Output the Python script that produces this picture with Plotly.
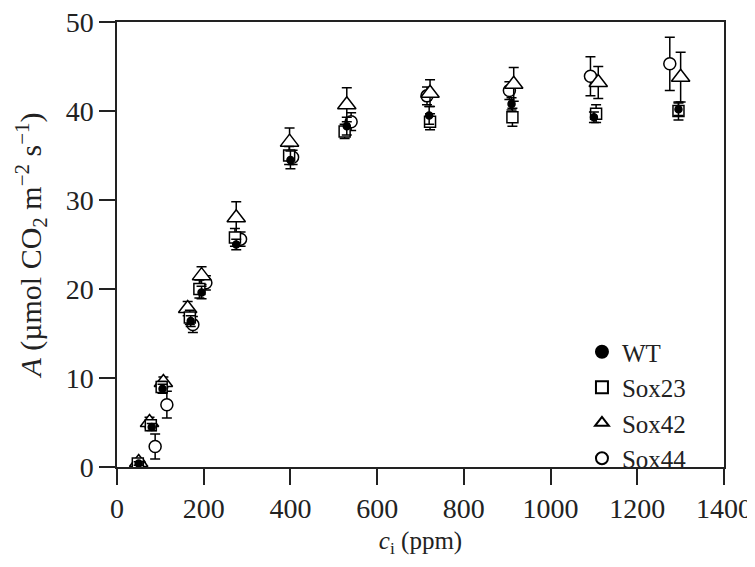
import plotly.graph_objects as go

# ci (ppm), A and error per genotype
wt_x = [50, 80, 105, 170, 195, 275, 400, 530, 720, 910, 1100, 1295]
wt_y = [0.4, 4.5, 8.8, 16.4, 19.6, 25.0, 34.5, 38.3, 39.5, 40.8, 39.3, 40.2]
wt_e = [0.2, 0.4, 0.5, 0.6, 0.7, 0.6, 1.0, 1.0, 1.0, 0.7, 0.6, 0.7]

sox23_x = [48, 78, 103, 168, 190, 272, 397, 525, 722, 912, 1105, 1295]
sox23_y = [0.4, 4.7, 9.0, 16.8, 20.0, 25.8, 35.0, 37.7, 38.8, 39.3, 39.7, 40.0]
sox23_e = [0.2, 0.5, 0.6, 0.8, 1.0, 1.0, 1.0, 0.8, 0.9, 1.0, 1.0, 1.0]

sox42_x = [50, 75, 107, 163, 195, 275, 398, 530, 722, 915, 1110, 1300]
sox42_y = [0.5, 5.0, 9.5, 17.8, 21.5, 28.0, 36.5, 40.7, 42.0, 43.0, 43.2, 43.8]
sox42_e = [0.2, 0.6, 0.6, 0.8, 1.0, 1.8, 1.6, 1.9, 1.5, 1.9, 1.8, 2.8]

sox44_x = [52, 88, 115, 175, 205, 285, 405, 540, 715, 905, 1092, 1275]
sox44_y = [0.3, 2.3, 7.0, 16.0, 20.7, 25.6, 34.8, 38.8, 41.7, 42.3, 43.9, 45.3]
sox44_e = [0.2, 1.4, 1.5, 0.9, 0.8, 0.8, 0.8, 1.0, 1.0, 1.0, 2.2, 3.0]

FONT = "Liberation Serif"
INK = "#222"


def series(name, x, y, e, symbol, size, filled=False):
    return go.Scatter(
        x=x, y=y, name=name, mode="markers",
        marker=dict(symbol=symbol, size=size,
                    color="black" if filled else "white",
                    line=dict(color="black", width=1.5)),
        error_y=dict(type="data", array=e, visible=True,
                     color="black", thickness=1.5, width=5),
    )


fig = go.Figure()
fig.add_trace(series("Sox44", sox44_x, sox44_y, sox44_e, "circle", 12))
fig.add_trace(series("Sox42", sox42_x, sox42_y, sox42_e, "triangle-up", 16))
fig.add_trace(series("Sox23", sox23_x, sox23_y, sox23_e, "square", 11))
fig.add_trace(series("WT", wt_x, wt_y, wt_e, "circle", 7, filled=True))

axis_common = dict(
    showline=True, linecolor=INK, linewidth=1.5, mirror=True,
    ticks="outside", ticklen=16, tickwidth=1.5, tickcolor=INK,
    showgrid=False, zeroline=False, automargin=False,
    ticklabeloverflow="allow",
    tickfont=dict(family=FONT, size=28, color=INK),
)

fig.update_xaxes(range=[0, 1400], dtick=200,
                 title=dict(text="<i>c</i><sub>i</sub> (ppm)",
                            font=dict(family=FONT, size=25, color=INK),
                            standoff=8),
                 **axis_common)
fig.update_yaxes(range=[0, 50], dtick=10,
                 title=dict(text="<i>A</i> (µmol CO<sub>2</sub> m<sup>−2</sup> s<sup>−1</sup>)",
                            font=dict(family=FONT, size=30, color=INK),
                            standoff=15),
                 **axis_common)

# page body adds an 8 px offset, so the figure is sized to fit inside the window
fig.update_layout(
    width=747, height=559,
    margin=dict(l=109, r=31, t=14, b=100, autoexpand=False),
    paper_bgcolor="white", plot_bgcolor="white",
    showlegend=True,
    legend=dict(x=0.766, y=0.31, xanchor="left", yanchor="top",
                traceorder="reversed",
                font=dict(family=FONT, size=25, color=INK),
                bgcolor="rgba(0,0,0,0)", itemsizing="constant",
                itemwidth=30, tracegroupgap=0),
)

fig.write_html("out.html")
